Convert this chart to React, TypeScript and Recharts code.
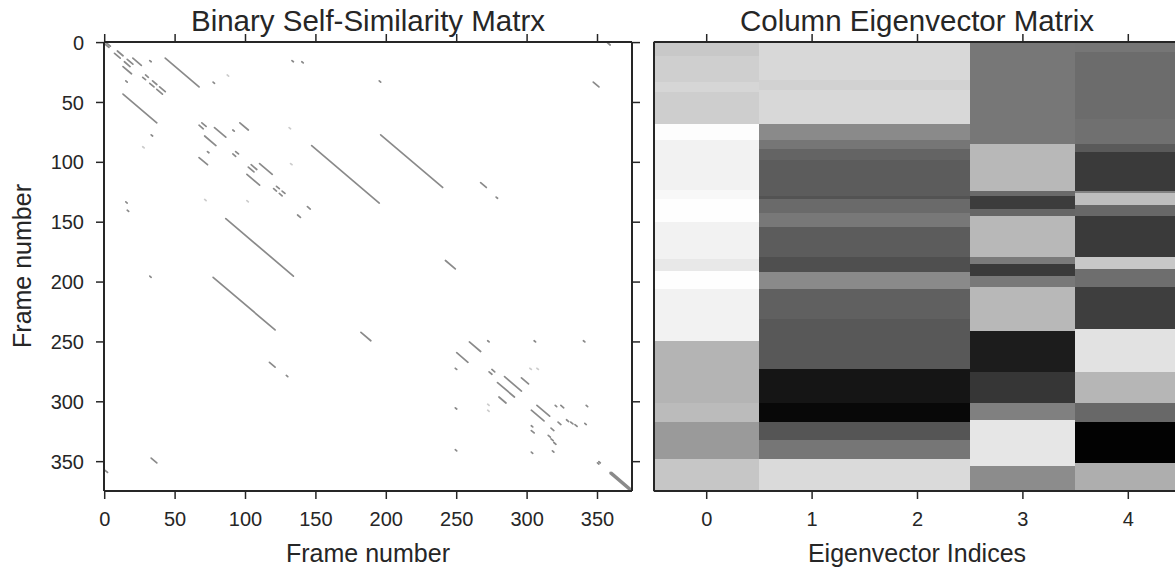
import React from "react";
import {
  ComposedChart,
  Line,
  Scatter,
  XAxis,
  YAxis,
  ReferenceArea,
} from "recharts";

const FONT = "'Liberation Sans', Arial, Helvetica, sans-serif";
const INK = "#262626";

const N_FRAMES = 375;
const FRAME_TICKS = [0, 50, 100, 150, 200, 250, 300, 350];
const EIG_TICKS = [0, 1, 2, 3, 4];

// upper-triangle runs of the binary matrix: [row, col, length]; drawn mirrored too
const nearDiagonal = [
  [0, 1, 3], [7, 9, 4], [14, 16, 4], [27, 29, 2], [32, 34, 3], [37, 39, 4],
  [67, 69, 3], [91, 93, 2], [102, 104, 4], [120, 122, 2], [124, 126, 2],
  [137, 144, 2], [273, 275, 2], [279, 284, 12], [303, 307, 9], [317, 322, 2],
  [350, 351, 1], [359, 359, 16], [359, 360, 15],
];
const offDiagonal = [
  [13, 20, 6], [15, 32, 1], [13, 43, 24], [33, 77, 1], [71, 78, 8], [73, 91, 1],
  [67, 96, 6], [101, 110, 9], [86, 147, 48], [77, 196, 44], [32, 195, 1],
  [15, 133, 1], [16, 140, 1], [117, 267, 4], [129, 278, 1], [33, 347, 4],
  [0, 357, 2], [182, 242, 7], [250, 259, 8], [249, 272, 1], [249, 305, 1],
  [249, 340, 1], [280, 296, 5], [303, 320, 1], [303, 324, 2], [303, 342, 1],
  [315, 328, 1.5], [317, 331, 1.5], [319, 334, 1.5], [318, 341, 1],
];
const faintMarks = [
  [27, 87, 1], [71, 131, 1], [101, 132, 1], [272, 302, 1], [272, 307, 1],
];

// eigenvector columns: [start frame, gray level 0-255]
const eigCol0 = [
  [0, 200], [12, 207], [34, 214], [42, 206], [69, 253], [82, 242], [124, 248],
  [132, 254], [151, 242], [182, 232], [192, 254], [207, 242], [250, 180],
  [302, 187], [318, 154], [349, 198],
];
const eigCol1 = [
  [0, 216], [32, 210], [41, 216], [69, 138], [82, 118], [90, 100], [99, 92],
  [129, 83], [132, 106], [143, 120], [155, 92], [180, 79], [193, 138], [207, 96],
  [232, 88], [274, 21], [302, 8], [318, 85], [333, 118], [349, 218],
];
const eigCol2 = [
  [0, 216], [32, 210], [41, 216], [69, 138], [82, 118], [90, 100], [99, 92],
  [129, 83], [132, 106], [143, 120], [155, 92], [180, 79], [193, 138], [207, 96],
  [232, 88], [274, 21], [302, 8], [318, 85], [333, 118], [349, 218],
];
const eigCol3 = [
  [0, 119], [86, 184], [125, 106], [129, 60], [140, 102], [146, 184], [180, 122],
  [186, 58], [196, 120], [205, 184], [242, 28], [276, 54], [302, 128],
  [316, 230], [355, 140],
];
const eigCol4 = [
  [0, 118], [9, 108], [65, 112], [86, 90], [92, 58], [125, 130], [127, 190],
  [137, 104], [146, 58], [180, 200], [190, 110], [205, 62], [240, 226],
  [276, 182], [302, 104], [318, 2], [352, 174],
];
const eigColumns = [eigCol0, eigCol1, eigCol2, eigCol3, eigCol4];

function runsToPoints(runs: number[][]) {
  const pts: { x: number; y: number | null }[] = [];
  runs.forEach(([r, c, len]) => {
    pts.push({ x: c, y: r }, { x: c + len, y: r + len }, { x: c + len, y: null });
    pts.push({ x: r, y: c }, { x: r + len, y: c + len }, { x: r + len, y: null });
  });
  return pts;
}

const gray = (g: number) => `rgb(${g},${g},${g})`;

const tickStyle = { fill: INK, fontSize: 20, fontFamily: FONT };
const lineStyle = { stroke: INK, strokeWidth: 1.5 };
const spine = { stroke: INK, strokeWidth: 2 };
const blank = () => "";

function SimilarityPanel() {
  const main = runsToPoints([...nearDiagonal, ...offDiagonal]);
  const faint = runsToPoints(faintMarks);
  const domain: [number, number] = [-0.5, N_FRAMES - 0.5];
  return (
    <ComposedChart
      width={660}
      height={573}
      margin={{ top: 32, right: 8, bottom: 7, left: 4 }}
    >
      <XAxis
        xAxisId="b"
        type="number"
        dataKey="x"
        domain={domain}
        allowDataOverflow
        ticks={FRAME_TICKS}
        interval={0}
        height={75}
        tickSize={8}
        tickMargin={13}
        tick={tickStyle}
        tickLine={lineStyle}
        axisLine={spine}
      />
      <XAxis
        xAxisId="t"
        orientation="top"
        type="number"
        dataKey="x"
        domain={domain}
        allowDataOverflow
        ticks={FRAME_TICKS}
        interval={0}
        height={10}
        tickSize={8}
        tickFormatter={blank}
        tickLine={lineStyle}
        axisLine={spine}
      />
      <YAxis
        yAxisId="l"
        type="number"
        domain={domain}
        allowDataOverflow
        reversed
        ticks={FRAME_TICKS}
        interval={0}
        width={100}
        tickSize={8}
        tickMargin={12}
        tick={tickStyle}
        tickLine={lineStyle}
        axisLine={spine}
      />
      <YAxis
        yAxisId="r"
        orientation="right"
        type="number"
        domain={domain}
        allowDataOverflow
        reversed
        ticks={FRAME_TICKS}
        interval={0}
        width={20}
        tickSize={8}
        tickFormatter={blank}
        tickLine={lineStyle}
        axisLine={spine}
      />
      <Line
        xAxisId="b"
        yAxisId="l"
        data={faint}
        dataKey="y"
        stroke="#cccccc"
        strokeWidth={1.7}
        strokeLinecap="round"
        dot={false}
        activeDot={false}
        connectNulls={false}
        isAnimationActive={false}
      />
      <Line
        xAxisId="b"
        yAxisId="l"
        data={main}
        dataKey="y"
        stroke="#8a8a8a"
        strokeWidth={1.7}
        strokeLinecap="round"
        dot={false}
        activeDot={false}
        connectNulls={false}
        isAnimationActive={false}
      />
    </ComposedChart>
  );
}

function EigenPanel() {
  const domainY: [number, number] = [-0.5, N_FRAMES - 0.5];
  const domainX: [number, number] = [-0.5, 4.5];
  const anchors = EIG_TICKS.map((c) => ({ x: c, y: 0 }));
  return (
    <ComposedChart
      width={560}
      height={573}
      margin={{ top: 32, right: 19, bottom: 7, left: 0 }}
    >
      {eigColumns.map((col, ci) =>
        col.map(([start, g], i) => (
          <ReferenceArea
            key={`c${ci}-${i}`}
            xAxisId="b"
            yAxisId="l"
            x1={ci - 0.5}
            x2={ci + 0.5}
            y1={start - 0.5}
            y2={(i + 1 < col.length ? col[i + 1][0] : N_FRAMES) - 0.5}
            fill={gray(g)}
            fillOpacity={1}
            stroke={gray(g)}
            strokeWidth={1.2}
            shapeRendering="crispEdges"
          />
        ))
      )}
      <XAxis
        xAxisId="b"
        type="number"
        dataKey="x"
        domain={domainX}
        allowDataOverflow
        ticks={EIG_TICKS}
        interval={0}
        height={75}
        tickSize={8}
        tickMargin={13}
        tick={tickStyle}
        tickLine={lineStyle}
        axisLine={spine}
      />
      <XAxis
        xAxisId="t"
        orientation="top"
        type="number"
        dataKey="x"
        domain={domainX}
        allowDataOverflow
        ticks={EIG_TICKS}
        interval={0}
        height={10}
        tickSize={8}
        tickFormatter={blank}
        tickLine={lineStyle}
        axisLine={spine}
      />
      <YAxis
        yAxisId="l"
        type="number"
        dataKey="y"
        domain={domainY}
        allowDataOverflow
        reversed
        width={14}
        tick={false}
        tickLine={false}
        axisLine={spine}
      />
      <Scatter
        xAxisId="b"
        yAxisId="l"
        data={anchors}
        fill="none"
        shape={() => <g />}
        isAnimationActive={false}
      />
    </ComposedChart>
  );
}

export default function App() {
  return (
    <div
      style={{
        position: "absolute",
        left: 0,
        top: 0,
        width: 1175,
        height: 573,
        overflow: "hidden",
        background: "#fff",
      }}
    >
      <div style={{ position: "absolute", left: 0, top: 0 }}>
        <SimilarityPanel />
      </div>
      <div style={{ position: "absolute", left: 640, top: 0 }}>
        <EigenPanel />
      </div>
      <svg
        width={1175}
        height={573}
        style={{ position: "absolute", left: 0, top: 0, pointerEvents: "none" }}
        fontFamily={FONT}
        fill={INK}
      >
        <text x={368} y={31} fontSize={29.5} textAnchor="middle">
          Binary Self-Similarity Matrx
        </text>
        <text x={917} y={31} fontSize={29.5} textAnchor="middle">
          Column Eigenvector Matrix
        </text>
        <text x={368} y={562} fontSize={25} textAnchor="middle">
          Frame number
        </text>
        <text x={917} y={562} fontSize={25} textAnchor="middle">
          Eigenvector Indices
        </text>
        <text
          x={31}
          y={266}
          fontSize={25}
          textAnchor="middle"
          transform="rotate(-90 31 266)"
        >
          Frame number
        </text>
      </svg>
    </div>
  );
}
